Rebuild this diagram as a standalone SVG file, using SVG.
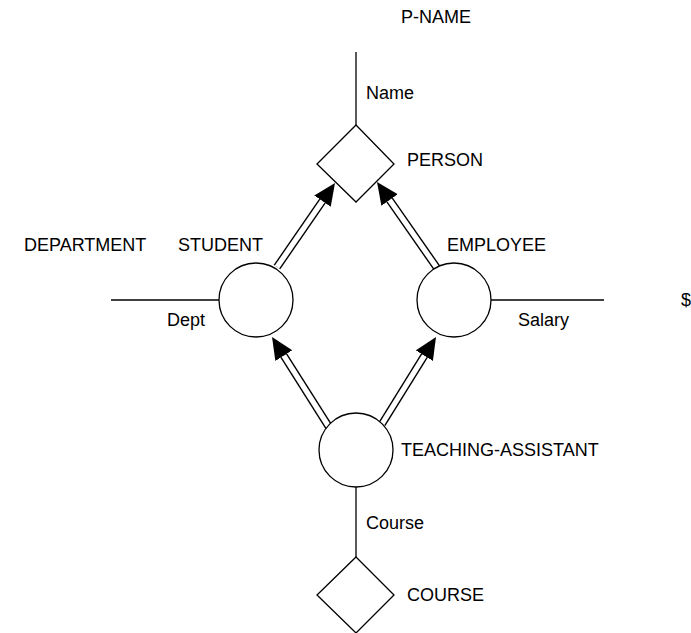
<svg xmlns="http://www.w3.org/2000/svg" width="691" height="633" viewBox="0 0 691 633">
<style>
text{font-family:"Liberation Sans",Arial,sans-serif;font-size:18px;fill:#000}
.shape{fill:#fff;stroke:#000;stroke-width:1.3}
.attr{stroke:#000;stroke-width:1.3;fill:none}
.outer{stroke:#000;stroke-width:8}
.inner{stroke:#fff;stroke-width:5.2}
</style>
<defs>
<marker id="arrow" markerUnits="userSpaceOnUse" markerWidth="24" markerHeight="22" refX="0" refY="10" orient="auto">
<path d="M0,0 L22,10 L0,20 z" fill="#000"/>
</marker>
</defs>
<rect width="691" height="633" fill="#fff"/>
<g id="connectors">
<line class="attr" x1="356" y1="52" x2="356" y2="125"/>
<line class="attr" x1="111" y1="300" x2="219" y2="300"/>
<line class="attr" x1="491" y1="300" x2="604" y2="300"/>
<line class="attr" x1="356" y1="487" x2="356" y2="557"/>
<g id="isa-student-person">
<line class="outer" x1="277" y1="267" x2="322.5" y2="201.1"/>
<line class="inner" x1="277" y1="267" x2="322.5" y2="201.1" marker-end="url(#arrow)"/>
</g>
<g id="isa-employee-person">
<line class="outer" x1="437" y1="268" x2="389.6" y2="200"/>
<line class="inner" x1="437" y1="268" x2="389.6" y2="200" marker-end="url(#arrow)"/>
</g>
<g id="isa-ta-student">
<line class="outer" x1="329" y1="427" x2="283.8" y2="355.6"/>
<line class="inner" x1="329" y1="427" x2="283.8" y2="355.6" marker-end="url(#arrow)"/>
</g>
<g id="isa-ta-employee">
<line class="outer" x1="382" y1="424" x2="424.4" y2="355.7"/>
<line class="inner" x1="382" y1="424" x2="424.4" y2="355.7" marker-end="url(#arrow)"/>
</g>
</g>
<g id="labels">
<text x="401" y="23">P-NAME</text>
<text x="366" y="99">Name</text>
<text x="24" y="251">DEPARTMENT</text>
<text x="167" y="326">Dept</text>
<text x="518" y="326">Salary</text>
<text x="681" y="306">$</text>
<text x="366" y="529">Course</text>
</g>
<g id="person">
<polygon class="shape" points="356,125 394,164 356,202 317,164"/>
<text x="407" y="166">PERSON</text>
</g>
<g id="student">
<circle class="shape" cx="256" cy="300" r="37"/>
<text x="178" y="251">STUDENT</text>
</g>
<g id="employee">
<circle class="shape" cx="454" cy="300" r="37"/>
<text x="447" y="251">EMPLOYEE</text>
</g>
<g id="teaching-assistant">
<circle class="shape" cx="356" cy="450" r="37"/>
<text x="401" y="456">TEACHING-ASSISTANT</text>
</g>
<g id="course">
<polygon class="shape" points="356,557 394,595 356,633 317,595"/>
<text x="407" y="601">COURSE</text>
</g>
</svg>
